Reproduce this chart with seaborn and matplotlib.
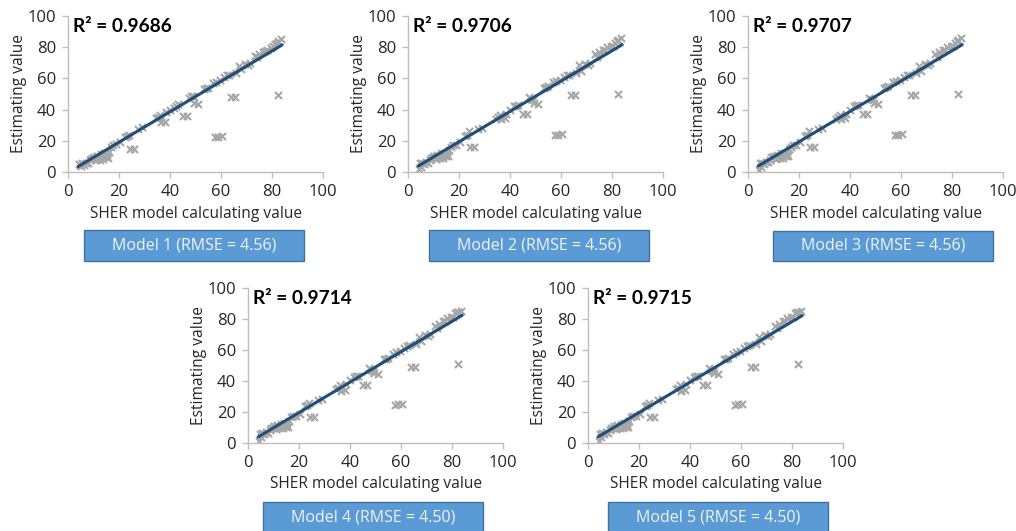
import matplotlib
matplotlib.use('Agg')
import matplotlib.pyplot as plt
from matplotlib.patches import Rectangle
import seaborn as sns

# SHER model values (shared by all five models)
sher = [4.2, 4.8, 5.5, 6.2, 7.0, 7.8, 8.5, 9.2, 10.0, 10.8, 11.5, 12.2, 13.0, 13.6, 14.2, 14.8, 15.4, 16.0, 16.8,
        19.0, 20.2, 22.5, 24.0, 24.5, 26.0, 27.5, 29.0, 34.5, 36.0, 36.5, 38.0, 38.5, 40.0, 41.5, 43.0, 45.0, 46.5,
        47.5, 49.0, 49.5, 51.0, 53.5, 55.0, 57.0, 57.5, 59.0, 60.5, 59.5, 61.0, 62.5, 64.0, 65.5, 66.0, 67.0, 68.0,
        69.5, 70.5, 73.5, 75.0, 76.5, 78.0, 79.5, 81.0, 82.5, 82.5, 83.5,
        5.0, 9.8, 11.2, 12.6, 14.0, 15.6, 17.5, 23.0, 35.2, 42.2, 48.2, 54.2, 58.2, 63.0, 71.5, 74.2, 77.2, 80.2, 82.0]

# estimated values for each model
est_m1 = [5.0, 4.5, 5.5, 4.8, 6.0, 5.5, 7.5, 8.5, 9.5, 8.0, 10.5, 9.0, 11.5, 8.5, 12.0, 9.5, 11.0, 13.0, 16.0,
          18.0, 19.5, 22.5, 24.0, 14.8, 14.8, 27.5, 29.0, 34.5, 36.5, 32.0, 32.0, 38.5, 40.0, 41.0, 43.5, 36.0, 36.0,
          47.5, 49.0, 44.0, 43.8, 53.0, 54.0, 57.0, 22.3, 22.5, 22.8, 59.0, 61.0, 62.5, 48.0, 48.0, 63.5, 68.0, 66.0,
          69.5, 68.5, 74.5, 75.5, 77.0, 78.5, 79.5, 82.0, 49.2, 84.0, 85.0,
          4.0, 9.0, 10.0, 8.0, 10.5, 9.0, 17.5, 23.0, 35.0, 42.5, 48.5, 54.0, 58.0, 62.0, 70.0, 73.5, 77.5, 80.5, 83.0]
est_m2 = [2.0, 5.5, 6.0, 5.0, 6.5, 6.0, 8.0, 9.0, 10.5, 8.5, 11.0, 10.0, 12.0, 9.0, 12.5, 10.0, 11.5, 14.0, 16.0,
          17.5, 19.0, 23.0, 26.5, 16.0, 16.0, 27.5, 28.5, 34.0, 36.5, 34.0, 34.5, 37.5, 40.0, 42.0, 43.0, 37.0, 37.0,
          48.0, 46.0, 44.0, 43.5, 54.0, 55.0, 57.5, 23.8, 24.0, 24.2, 59.0, 61.0, 62.0, 49.5, 49.5, 63.5, 68.5, 65.0,
          69.0, 68.5, 75.5, 77.0, 78.0, 80.0, 81.0, 83.0, 50.0, 84.5, 86.0,
          3.5, 9.5, 10.5, 9.0, 11.0, 10.0, 17.0, 24.0, 35.5, 42.5, 46.5, 54.5, 58.5, 62.5, 70.0, 74.0, 78.5, 80.5, 84.0]
est_m3 = [1.5, 5.5, 6.0, 5.0, 6.5, 6.5, 8.0, 9.5, 10.5, 8.5, 11.0, 10.0, 12.5, 9.0, 12.5, 10.0, 11.5, 14.5, 16.0,
          17.5, 19.0, 23.0, 26.0, 16.0, 16.0, 27.5, 28.5, 34.0, 36.5, 34.0, 34.5, 37.5, 40.0, 42.5, 43.0, 37.0, 37.0,
          47.5, 46.0, 44.0, 43.5, 54.0, 55.0, 57.5, 23.8, 24.0, 24.2, 59.0, 61.0, 62.0, 49.5, 49.5, 63.5, 68.0, 65.0,
          69.0, 68.5, 75.5, 77.0, 78.0, 80.0, 81.0, 83.0, 50.0, 84.5, 86.0,
          3.5, 9.5, 10.5, 9.0, 11.0, 10.0, 17.0, 24.0, 35.5, 43.0, 46.5, 54.5, 58.5, 62.5, 70.0, 74.0, 78.5, 80.5, 84.0]
est_m4 = [1.5, 6.0, 6.5, 5.5, 7.0, 6.5, 8.5, 9.5, 11.0, 9.0, 11.5, 10.5, 12.5, 9.5, 13.0, 10.5, 12.0, 14.5, 16.5,
          17.5, 19.0, 24.0, 25.5, 16.5, 16.5, 28.0, 28.5, 35.0, 37.5, 33.5, 34.0, 38.0, 40.5, 42.5, 43.0, 37.5, 37.5,
          48.5, 46.5, 45.0, 44.5, 54.0, 55.0, 57.5, 24.8, 25.0, 25.2, 59.5, 61.5, 62.5, 49.0, 49.0, 64.0, 68.5, 65.5,
          69.5, 69.0, 75.5, 77.0, 79.0, 80.5, 81.0, 84.0, 51.0, 84.5, 85.0,
          4.0, 10.0, 11.0, 9.5, 11.5, 10.5, 17.5, 24.5, 35.5, 43.0, 47.0, 54.5, 58.5, 63.0, 70.5, 74.5, 79.0, 81.0, 84.5]
est_m5 = [1.5, 6.0, 6.5, 5.5, 7.0, 6.5, 8.5, 9.5, 11.0, 9.0, 11.5, 10.5, 12.5, 9.5, 13.0, 10.5, 12.0, 14.5, 16.5,
          17.5, 19.0, 24.0, 25.5, 16.5, 16.5, 28.0, 28.5, 35.0, 37.5, 33.5, 34.0, 38.0, 40.5, 42.5, 43.0, 37.5, 37.5,
          48.5, 46.5, 45.0, 44.5, 54.0, 55.0, 57.5, 24.8, 25.0, 25.2, 59.5, 61.5, 62.5, 48.8, 48.8, 64.0, 68.5, 65.5,
          69.5, 69.0, 75.5, 77.0, 79.0, 80.5, 81.0, 84.0, 51.0, 84.5, 85.0,
          4.0, 10.0, 11.0, 9.5, 11.5, 10.5, 17.5, 24.5, 35.5, 43.0, 47.0, 54.5, 58.5, 63.0, 70.5, 74.5, 79.0, 81.0, 84.5]

# trendline ends for each model
trend_x = [4, 84]
trend_start = [3.5, 3.8, 3.8, 3.9, 4.0]
trend_end = [81.5, 81.6, 81.6, 82.4, 82.2]

r2_values = ['0.9686', '0.9706', '0.9707', '0.9714', '0.9715']
rmse_values = ['4.56', '4.56', '4.56', '4.50', '4.50']
estimates = [est_m1, est_m2, est_m3, est_m4, est_m5]

sns.set_style('white')
plt.rcParams['font.family'] = ['Open Sans', 'DejaVu Sans']

W, H = 1016, 531
fig = plt.figure(figsize=(W / 100, H / 100), dpi=100)

# plotting areas in pixels: left, top (y=100), bottom (y=0)
ax_pix = [(68, 16, 172), (408, 16, 172), (748, 16, 172), (248, 288, 443), (588, 288, 443)]
box_pix = [(84, 230, 261), (429, 230, 261), (773, 231, 261), (263, 502, 533), (608, 502, 533)]

for i in range(5):
    left, top, bottom = ax_pix[i]
    ax = fig.add_axes([left / W, 1 - bottom / H, 255 / W, (bottom - top) / H])

    sns.scatterplot(x=sher, y=estimates[i], ax=ax, marker='x', color='#A6A6A6', s=26, linewidth=1.5, zorder=2)
    sns.lineplot(x=trend_x, y=[trend_start[i], trend_end[i]], ax=ax, color='#1F4E79', linewidth=2.2, zorder=3)

    ax.set_xlim(0, 100)
    ax.set_ylim(0, 100)
    ax.set_xticks([0, 20, 40, 60, 80, 100])
    ax.set_yticks([0, 20, 40, 60, 80, 100])
    for s in ['top', 'right']:
        ax.spines[s].set_visible(False)
    for s in ['left', 'bottom']:
        ax.spines[s].set_color('#BFBFBF')
        ax.spines[s].set_linewidth(1)
    ax.tick_params(direction='out', length=4, width=1, color='#BFBFBF', labelsize=12,
                   labelcolor='#262626', pad=4.5, left=True, bottom=True)
    ax.set_xlabel('SHER model calculating value', fontsize=11.2, color='#262626')
    ax.set_ylabel('Estimating value', fontsize=11.2, color='#262626')
    ax.xaxis.set_label_coords(0.5, -0.215)
    ax.yaxis.set_label_coords(-0.16, 0.5)

    ax.text(0.02, 0.935, 'R\u00b2 = ' + r2_values[i], transform=ax.transAxes, fontsize=13.8,
            fontweight='bold', family=['Lato', 'DejaVu Sans'], va='center', ha='left', color='black')

    bl, bt, bb = box_pix[i]
    fig.add_artist(Rectangle((bl / W, 1 - bb / H), 220 / W, (bb - bt) / H, transform=fig.transFigure,
                             facecolor='#5B9BD5', edgecolor='#41719C', linewidth=1))
    fig.text((bl + 110) / W, 1 - (bt + bb) / 2 / H, 'Model %d (RMSE = %s)' % (i + 1, rmse_values[i]),
             ha='center', va='center', fontsize=11.5, color='#F2F2F2')

fig.savefig('out.png', dpi=100)
